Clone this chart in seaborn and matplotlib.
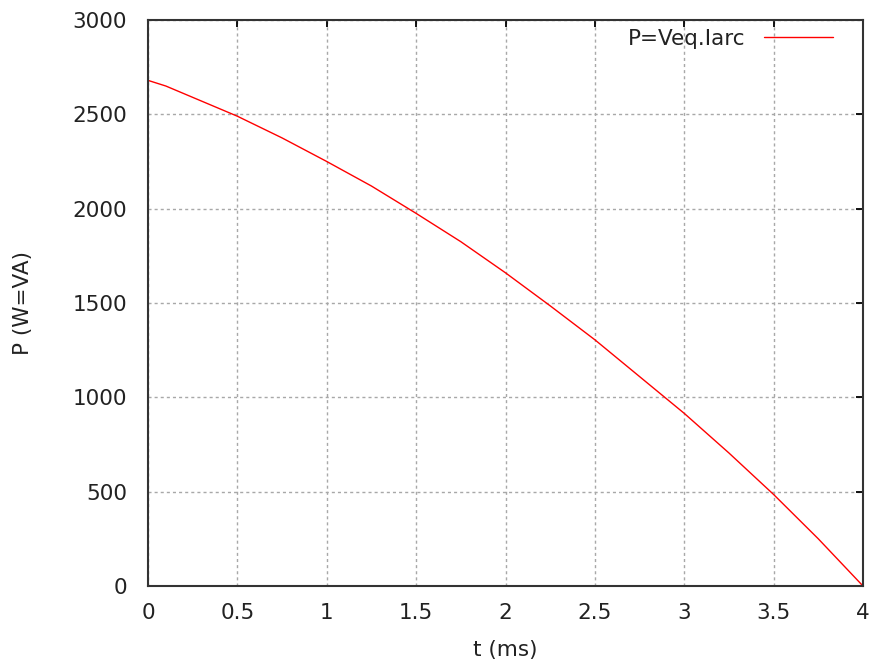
import matplotlib
matplotlib.use("Agg")
import matplotlib.pyplot as plt
import seaborn as sns
import pandas as pd

t_ms = [0.0, 0.1, 0.25, 0.5, 0.75, 1.0, 1.25, 1.5, 1.75, 2.0, 2.25, 2.5, 2.75, 3.0, 3.25, 3.5, 3.75, 4.0]
power = [2680, 2650, 2590, 2490, 2375, 2250, 2120, 1975, 1825, 1660, 1485, 1305, 1110, 915, 705, 485, 250, 0]
x_ticks = [0, 0.5, 1, 1.5, 2, 2.5, 3, 3.5, 4]
x_labels = ["0", "0.5", "1", "1.5", "2", "2.5", "3", "3.5", "4"]
y_ticks = [0, 500, 1000, 1500, 2000, 2500, 3000]
series_label = "P=Veq.Iarc"

df = pd.DataFrame({"t": t_ms, "P": power})

sns.set_style("white")
plt.rcParams["font.family"] = ["DejaVu Sans"]

FS = 15.5
fig = plt.figure(figsize=(8.75, 6.68), dpi=100)
L, R, T, B = 148, 863, 20, 586
ax = fig.add_axes([L / 875, (668 - B) / 668, (R - L) / 875, (B - T) / 668])

sns.lineplot(data=df, x="t", y="P", ax=ax, color="#ff0000", linewidth=1.0, label=series_label)

ax.set_xlim(0, 4)
ax.set_ylim(0, 3000)
ax.set_xticks(x_ticks)
ax.set_xticklabels(x_labels)
ax.set_yticks(y_ticks)
ax.grid(True, color="#a8a8a8", linestyle=(0, (2.2, 2.2)), linewidth=1.0)
ax.tick_params(axis="both", direction="in", length=5, width=1.3, labelsize=FS,
               top=True, right=True, colors="#000000", labelcolor="#222222")
ax.tick_params(axis="y", pad=15)
ax.tick_params(axis="x", pad=12)
for s in ax.spines.values():
    s.set_visible(True)
    s.set_color("#333333")
    s.set_linewidth(1.5)

ax.set_xlabel("t (ms)", fontsize=FS, color="#222222")
ax.set_ylabel("P (W=VA)", fontsize=FS, color="#222222")
ax.xaxis.set_label_coords((505 - L) / (R - L), -(640 - B) / (B - T))
ax.yaxis.set_label_coords(-(L - 33) / (R - L), 0.5)

leg = ax.legend(loc="center right", bbox_to_anchor=((833 - L) / (R - L), (B - 39) / (B - T)),
                frameon=False, fontsize=FS, markerfirst=False,
                handlelength=3.2, handletextpad=0.85, borderpad=0, borderaxespad=0)
for t in leg.get_texts():
    t.set_color("#222222")

fig.savefig("out.png", dpi=100)
